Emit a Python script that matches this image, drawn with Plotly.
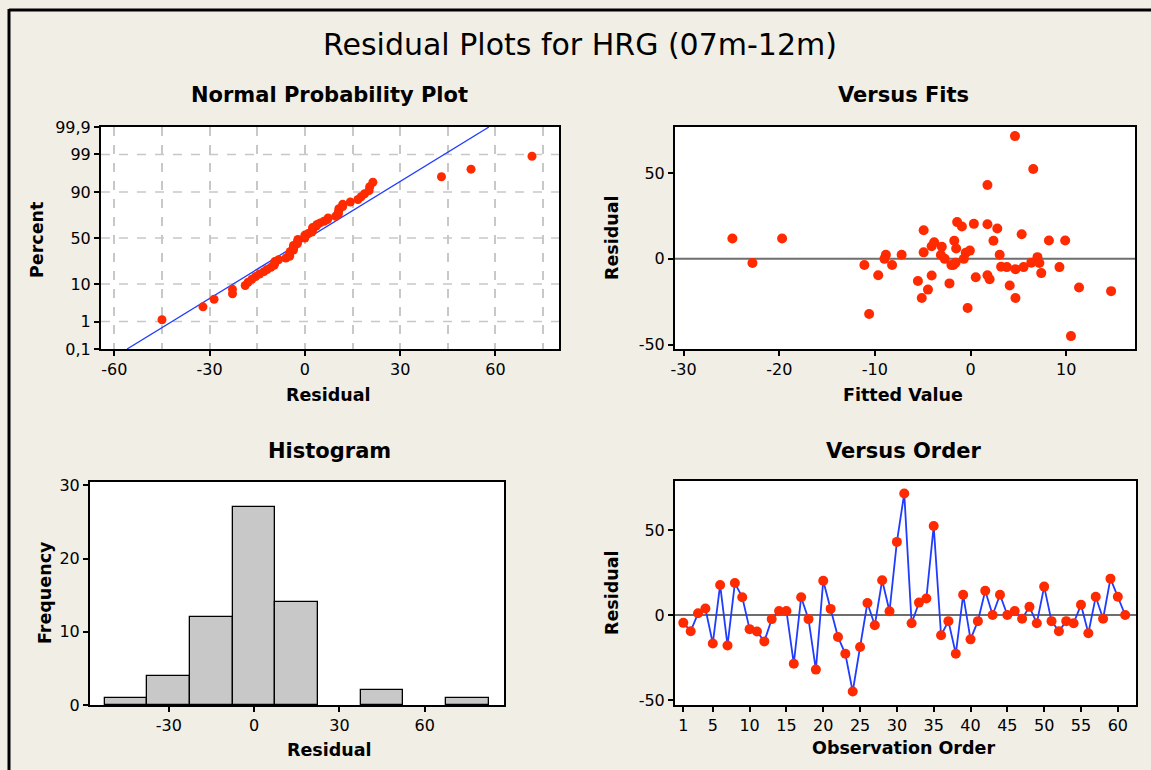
import plotly.graph_objects as go
from statistics import NormalDist, mean, stdev

# Residuals in observation order (read from "Versus Order")
residuals = [-4.6, -9.5, 1.0, 3.8, -16.7, 17.7, -17.9, 18.8, 10.5, -8.3,
             -9.7, -15.5, -2.4, 2.4, 2.4, -28.6, 10.5, -2.4, -32.1, 20.2,
             3.6, -12.9, -22.8, -45.0, -18.8, 7.1, -6.0, 20.4, 2.2, 43.0,
             71.5, -4.8, 7.3, 9.7, 52.3, -11.9, -3.6, -22.8, 11.9, -14.3,
             -3.6, 14.3, 0.0, 11.9, 0.0, 2.4, -2.2, 4.8, -4.8, 16.7,
             -3.6, -9.5, -3.6, -4.8, 6.0, -10.7, 10.7, -2.2, 21.4, 10.7, 0.0]

# Fitted values in observation order (read from "Versus Fits")
fitted = [3.2, 1.77, 7.0, -4.9, 11.35, 2.8, -4.45, -0.9, -1.7, 7.4,
          -4.06, 4.1, -22.8, 3.05, -8.85, -0.3, 2.4, 7.2, -10.6, 1.77,
          -0.5, -5.5, -5.1, 10.5, 14.7, -3.0, 4.7, 0.35, -3.1, 1.77,
          4.65, 3.8, -4.06, -3.8, 6.56, 2.0, -1.8, 4.7, -24.9, -2.2,
          -11.1, 5.35, -2.7, -19.7, -9.0, -7.2, 6.35, -0.07, 5.55, -4.9,
          -8.2, -9.65, -2.0, 9.3, -1.5, 0.55, 8.2, -1.56, -1.4, 9.9, -0.7]

observation = list(range(1, len(residuals) + 1))

prob_tick_pct = [0.1, 1, 10, 50, 90, 99, 99.9]
prob_tick_text = ["0,1", "1", "10", "50", "90", "99", "99,9"]

W, H = 1151, 770
BG = "#f1eee6"
RED = "#ff2a00"
BLUE = "#1f3cff"
FONT = "DejaVu Sans"

nd = NormalDist()
n = len(residuals)
srt = sorted(residuals)
pct_z = [nd.inv_cdf((i + 1 - 0.3) / (n + 0.4)) for i in range(n)]
mu, sd = mean(residuals), stdev(residuals)
zlim = nd.inv_cdf(0.999)
line_z = [-zlim, zlim]
line_x = [mu + z * sd for z in line_z]
tick_z = [nd.inv_cdf(p / 100) for p in prob_tick_pct]


def dx(px0, px1):
    return [px0 / W, px1 / W]


def dy(py0, py1):
    return [1 - py1 / H, 1 - py0 / H]


def labels(vals):
    return [str(v) for v in vals]


fig = go.Figure()

# Normal probability plot
fig.add_trace(go.Scatter(x=line_x, y=line_z, mode="lines", line=dict(color=BLUE, width=1.3),
                         xaxis="x", yaxis="y", hoverinfo="skip"))
fig.add_trace(go.Scatter(x=srt, y=pct_z, mode="markers", marker=dict(color=RED, size=9),
                         xaxis="x", yaxis="y"))
# Versus fits
fig.add_trace(go.Scatter(x=fitted, y=residuals, mode="markers", marker=dict(color=RED, size=10),
                         xaxis="x2", yaxis="y2"))
# Histogram
fig.add_trace(go.Histogram(x=residuals, xbins=dict(start=-52.5, end=82.5, size=15),
                           marker=dict(color="#c8c8c8", line=dict(color="black", width=1.3)),
                           xaxis="x3", yaxis="y3"))
# Versus order
fig.add_trace(go.Scatter(x=observation, y=residuals, mode="lines+markers",
                         line=dict(color=BLUE, width=1.8),
                         marker=dict(color=RED, size=10),
                         xaxis="x4", yaxis="y4"))

tickfont = dict(family=FONT, size=16, color="black")
common = dict(showline=True, mirror=True, linecolor="black", linewidth=2,
              ticks="outside", ticklen=5, tickwidth=1.5, tickcolor="black",
              tickfont=tickfont, zeroline=False, fixedrange=True)

fx1 = [-60, -30, 0, 30, 60]
fx2 = [-30, -20, -10, 0, 10]
fy2 = [-50, 0, 50]
fx3 = [-30, 0, 30, 60]
fy3 = [0, 10, 20, 30]
fx4 = [1, 5, 10, 15, 20, 25, 30, 35, 40, 45, 50, 55, 60]

fig.update_layout(
    width=W, height=H,
    margin=dict(l=0, r=0, t=0, b=0, pad=0, autoexpand=False),
    paper_bgcolor=BG, plot_bgcolor="white",
    showlegend=False,
    bargap=0,
    xaxis=dict(domain=dx(101, 559), range=[-64.2, 80], tickvals=fx1, ticktext=labels(fx1),
               showgrid=False,
               minor=dict(dtick=15, tick0=0, showgrid=True, gridcolor="#c8c8c8", griddash="dash", gridwidth=1.5),
               anchor="y", **common),
    yaxis=dict(domain=dy(127, 349), range=[-zlim, zlim], tickvals=tick_z, ticktext=prob_tick_text,
               showgrid=False, anchor="x", **common),
    xaxis2=dict(domain=dx(675, 1135), range=[-30.9, 17.2], tickvals=fx2, ticktext=labels(fx2),
                showgrid=False, anchor="y2", **common),
    yaxis2=dict(domain=dy(127, 349), range=[-52.5, 76.8], tickvals=fy2, ticktext=labels(fy2),
                showgrid=False, anchor="x2", **common),
    xaxis3=dict(domain=dx(90, 504), range=[-57.7, 87.9], tickvals=fx3, ticktext=labels(fx3),
                showgrid=False, anchor="y3", **common),
    yaxis3=dict(domain=dy(482, 705), range=[0, 30.45], tickvals=fy3, ticktext=labels(fy3),
                showgrid=False, anchor="x3", **common),
    xaxis4=dict(domain=dx(675, 1136), range=[-0.13, 62.47], tickvals=fx4, ticktext=labels(fx4),
                showgrid=False, anchor="y4", **common),
    yaxis4=dict(domain=dy(481, 705), range=[-52.9, 78.8], tickvals=fy2, ticktext=labels(fy2),
                showgrid=False, anchor="x4", **common),
)

# dashed horizontal grid for probability plot (inner ticks only)
for z in tick_z[1:-1]:
    fig.add_shape(type="line", xref="x domain", yref="y", x0=0, x1=1, y0=z, y1=z,
                  line=dict(color="#c8c8c8", width=1.5, dash="dash"), layer="below")

# zero reference lines
for xr, yr in (("x2", "y2"), ("x4", "y4")):
    fig.add_shape(type="line", xref=f"{xr} domain", yref=yr, x0=0, x1=1, y0=0, y1=0,
                  line=dict(color="#6e6e6e", width=2), layer="below")

# frame lines (left and top)
fig.add_shape(type="line", xref="paper", yref="paper", x0=9 / W, x1=9 / W, y0=0, y1=1 - 9 / H,
              line=dict(color="black", width=3))
fig.add_shape(type="line", xref="paper", yref="paper", x0=9 / W, x1=1, y0=1 - 10 / H, y1=1 - 10 / H,
              line=dict(color="black", width=3))


def ann(text, px, py, size, bold=False, angle=0):
    fig.add_annotation(text=f"<b>{text}</b>" if bold else text, x=px / W, y=1 - py / H,
                       xref="paper", yref="paper", showarrow=False, textangle=angle,
                       font=dict(family=FONT, size=size, color="black"),
                       xanchor="center", yanchor="middle")


ann("Residual Plots for HRG (07m-12m)", 580, 45, 30)
ann("Normal Probability Plot", 329, 95, 21, True)
ann("Versus Fits", 903, 95, 21, True)
ann("Histogram", 329, 451, 21, True)
ann("Versus Order", 903, 451, 21, True)

ann("Residual", 328, 395, 17.5, True)
ann("Percent", 37, 240, 17.5, True, -90)
ann("Fitted Value", 903, 395, 17.5, True)
ann("Residual", 612, 238, 17.5, True, -90)
ann("Residual", 329, 750, 17.5, True)
ann("Frequency", 45, 593, 17.5, True, -90)
ann("Observation Order", 903, 748, 17.5, True)
ann("Residual", 612, 593, 17.5, True, -90)

fig.write_html("out.html")
